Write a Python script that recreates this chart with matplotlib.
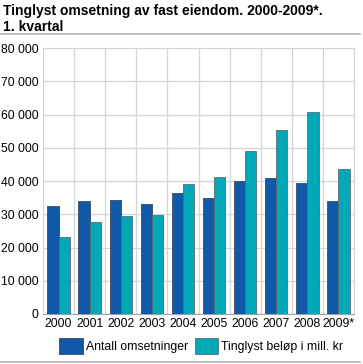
import matplotlib.pyplot as plt
import numpy as np
from matplotlib.lines import Line2D

years = ['2000', '2001', '2002', '2003', '2004', '2005', '2006', '2007', '2008', '2009*']
antall = [32600, 34100, 34300, 33000, 36300, 34800, 39900, 40800, 39300, 34000]
belop = [23300, 27700, 29400, 29800, 39000, 41200, 48900, 55300, 60900, 43600]
yticks = [0, 10000, 20000, 30000, 40000, 50000, 60000, 70000, 80000]

plt.rcParams['font.family'] = ['Liberation Sans', 'DejaVu Sans']

fig = plt.figure(figsize=(3.63, 3.64), dpi=100)
ax = fig.add_axes([43 / 363, 1 - 314 / 364, 311 / 363, 266 / 364])

x = np.arange(len(years))
w = 0.36
ax.bar(x - w / 2, antall, w, color='#1059a8', edgecolor='#3a4a5a', linewidth=0.6,
       label='Antall omsetninger', zorder=3)
ax.bar(x + w / 2, belop, w, color='#00a8b8', edgecolor='#5a6a70', linewidth=0.6,
       label='Tinglyst beløp i mill. kr', zorder=3)

ax.set_xlim(-0.5, len(years) - 0.5)
ax.set_ylim(0, 80000)
ax.set_yticks(yticks)
ax.set_yticklabels([f'{v:,}'.replace(',', ' ') for v in yticks], fontsize=8.8)
ax.set_xticks(x)
ax.set_xticklabels(years, fontsize=8.8)
ax.tick_params(length=0, pad=3)

ax.set_xticks(np.arange(-0.5, len(years)), minor=True)
ax.tick_params(which='minor', length=0)
ax.grid(axis='y', color='#d4d4dc', linewidth=0.9, zorder=0)
ax.grid(axis='x', which='minor', color='#d4d4dc', linewidth=0.9, zorder=0)
ax.grid(axis='x', which='major', visible=False)
for s in ax.spines.values():
    s.set_color('#d4d4dc')
ax.spines['bottom'].set_color('#a0a0a8')

fig.text(3 / 363, 1 - 4 / 364, 'Tinglyst omsetning av fast eiendom. 2000-2009*.\n1. kvartal',
         fontsize=10, fontweight='bold', va='top', ha='left', linespacing=1.15)
fig.add_artist(Line2D([0, 360 / 363], [1 - 34 / 364] * 2, color='#b0b0b0', linewidth=1.2))
fig.add_artist(Line2D([0, 360 / 363], [1 - 362 / 364] * 2, color='#b0b0b0', linewidth=1.2))

fig.legend(loc='center', bbox_to_anchor=(0.555, 1 - 346 / 364), ncol=2, frameon=False,
           fontsize=8.8, handlelength=1.9, handleheight=1.6, handletextpad=0.25,
           columnspacing=0.6, borderaxespad=0)

fig.savefig('out.png', dpi=100)
